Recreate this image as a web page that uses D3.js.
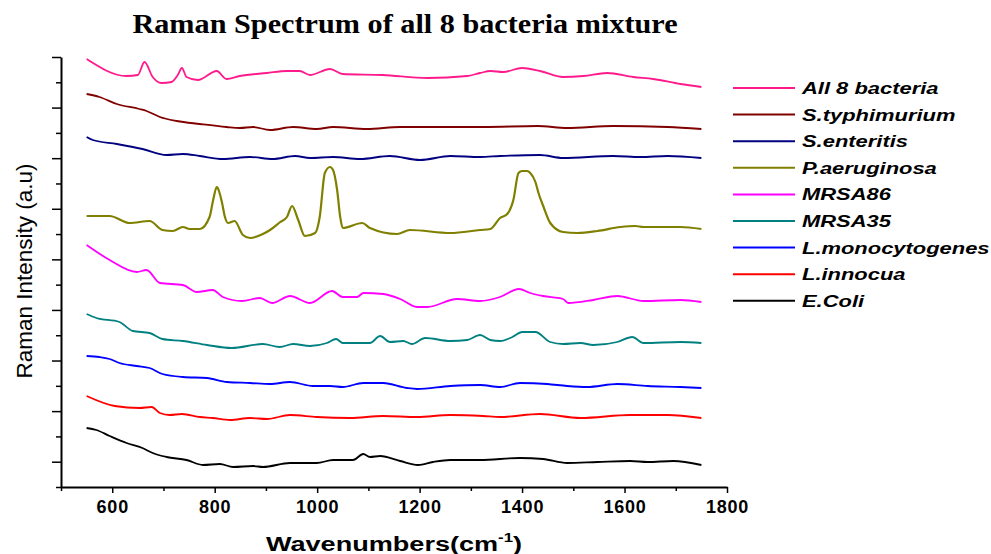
<!DOCTYPE html>
<html>
<head>
<meta charset="utf-8">
<script src="https://cdn.jsdelivr.net/npm/d3@7"></script>
<style>
  body { margin: 0; background: #fff; }
</style>
</head>
<body>
<div id="chart"></div>
<script>
// series names / colours, in legend order (top to bottom)
var names = ["All 8 bacteria", "S.typhimurium", "S.enteritis", "P.aeruginosa", "MRSA86",
             "MRSA35", "L.monocytogenes", "L.innocua", "E.Coli"];
var colors = ["#ff1a8c", "#800000", "#000080", "#808000", "#ff00ff",
              "#008080", "#0000ff", "#ff0000", "#000000"];

// wavenumber (cm-1) and offset intensity (a.u.)
var allW = [550,628,650,663,679,696,716,728,736,745,767,804,823,849,902,941,966,986,1025,1050,1128,1215,1293,1318,1338,1363,1400,1435,1480,1520,1566,1617,1656,1709,1750];
var allI = [428,411,412,425,410,404,405,412,419,410,407,416,408,411,414,416,416,412,418,413,412,409,411,414,416,415,419,416,410,411,414,410,408,403,400];

var styW = [550,575,609,653,667,693,726,771,823,849,875,908,953,999,1031,1097,1162,1254,1324,1430,1488,1578,1684,1750];
var styI = [393,390,383,378,376,370,366,363,360,359,360,357,360,358,360,358,360,360,360,361,359,361,360,358];

var sentW = [550,562,609,659,706,738,771,816,869,913,957,986,1031,1084,1142,1201,1260,1318,1357,1435,1480,1578,1631,1684,1750];
var sentI = [350,347,343,338,332,333,331,328,330,328,331,329,330,328,331,327,331,330,331,332,329,331,330,331,329];

var paeW = [550,595,634,673,698,718,738,751,771,790,797,804,806,814,820,826,839,855,869,894,908,928,941,951,963,976,996,1005,1015,1025,1031,1039,1045,1050,1088,1103,1156,1181,1260,1318,1338,1357,1371,1383,1393,1400,1410,1416,1426,1432,1442,1455,1480,1508,1547,1592,1621,1637,1709,1750];
var paeI = [271,271,264,266,257,256,260,258,258,270,287,300,299,285,270,264,266,252,249,253,257,265,270,281,267,251,254,270,314,320,317,297,270,259,264,259,253,257,254,257,258,269,273,287,314,316,316,314,305,294,280,264,255,254,256,260,261,260,260,258];

var m86W = [550,595,648,667,693,738,765,796,816,853,888,912,947,986,1029,1050,1078,1090,1129,1162,1195,1215,1273,1318,1357,1394,1416,1441,1480,1490,1539,1586,1637,1709,1750];
var m86I = [242,227,215,217,204,202,195,197,190,186,189,184,191,184,196,190,190,194,193,188,180,180,188,186,190,198,194,191,188,184,187,191,186,187,185];

var m35W = [550,569,614,640,673,698,738,785,833,894,927,953,986,1019,1037,1050,1103,1123,1142,1168,1185,1211,1260,1293,1318,1338,1357,1381,1400,1426,1455,1480,1514,1539,1586,1615,1637,1709,1750];
var m35I = [173,169,165,156,154,148,146,142,139,143,140,143,141,144,148,144,144,151,145,146,143,149,146,147,152,147,146,150,155,155,145,143,144,142,145,150,144,145,144];

var lmoW = [550,575,595,614,648,673,698,738,785,824,869,908,947,992,1025,1050,1090,1129,1175,1195,1260,1318,1357,1396,1449,1488,1527,1586,1645,1709,1750];
var lmoI = [131,130,128,124,121,119,113,110,109,105,104,103,105,101,101,100,104,104,99,98,101,102,100,104,103,101,100,103,101,100,99];

var linW = [550,605,653,677,693,712,736,771,796,830,869,902,947,999,1064,1129,1195,1260,1324,1357,1435,1514,1611,1684,1750];
var linI = [91,81,79,80,74,72,73,70,69,67,69,68,72,70,69,71,70,72,71,70,73,69,72,72,69];

var ecoW = [550,569,595,628,659,679,706,745,777,810,836,875,894,947,999,1031,1070,1090,1103,1123,1162,1197,1226,1260,1318,1396,1441,1488,1547,1611,1645,1695,1750];
var ecoI = [59,57,51,44,39,34,30,27,22,23,20,21,20,24,24,27,27,33,30,31,26,22,25,27,27,29,28,24,25,26,25,26,22];

var xMajor = [600, 800, 1000, 1200, 1400, 1600, 1800];
var xMinor = [500, 700, 900, 1100, 1300, 1500, 1700];

var seriesW = [allW, styW, sentW, paeW, m86W, m35W, lmoW, linW, ecoW];
var seriesI = [allI, styI, sentI, paeI, m86I, m35I, lmoI, linI, ecoI];

var sans = "Arial, 'Liberation Sans', sans-serif";
var stretch = 1.29; // the source picture's lettering is widened horizontally

var svg = d3.select("#chart")
            .append("svg")
            .attr("width", 991)
            .attr("height", 554);

svg.append("rect")
   .attr("width", 991)
   .attr("height", 554)
   .attr("fill", "#fff");

var x = d3.scaleLinear().domain([500, 1800]).range([61, 727]);
var y = d3.scaleLinear().domain([0, 430]).range([487, 57]);

// y ticks: 17 intervals, long and short alternating, no labels
var yTicks = d3.range(18).map(function(i) { return i * 430 / 17; });
var yLong = yTicks.filter(function(d, i) { return i % 2 == 1; });
var yShort = yTicks.filter(function(d, i) { return i % 2 == 0; });

svg.append("g")
   .attr("transform", "translate(61,0)")
   .call(d3.axisLeft(y).tickValues(yShort).tickSize(5).tickFormat("").tickSizeOuter(0))
   .call(function(g) { g.select(".domain").remove(); });

svg.append("g")
   .attr("transform", "translate(61,0)")
   .call(d3.axisLeft(y).tickValues(yLong).tickSize(9).tickFormat("").tickSizeOuter(0))
   .call(function(g) { g.select(".domain").attr("stroke-width", 2); });

svg.append("g")
   .attr("transform", "translate(0,487)")
   .call(d3.axisBottom(x).tickValues(xMinor).tickSize(4).tickFormat("").tickSizeOuter(0))
   .call(function(g) { g.select(".domain").remove(); });

var xAxis = svg.append("g")
   .attr("transform", "translate(0,487)")
   .call(d3.axisBottom(x).tickValues(xMajor).tickSize(6).tickPadding(7)
           .tickFormat(d3.format("d")).tickSizeOuter(0));
xAxis.select(".domain").attr("stroke-width", 2);
xAxis.selectAll("text")
     .attr("font-family", sans)
     .attr("font-weight", "bold")
     .attr("font-size", 18)
     .attr("letter-spacing", 0.8)
     .attr("fill", "#000");

svg.selectAll(".tick line").attr("stroke-width", 1.5);

// spectra
var line = d3.line()
             .x(function(d) { return x(d[0]); })
             .y(function(d) { return y(d[1]); })
             .curve(d3.curveMonotoneX);

seriesW.forEach(function(w, k) {
    var pts = w.map(function(v, j) { return [v, seriesI[k][j]]; });
    svg.append("path")
       .attr("d", line(pts))
       .attr("fill", "none")
       .attr("stroke", colors[k])
       .attr("stroke-width", k == 3 ? 2.2 : 1.8)
       .attr("stroke-linejoin", "round");
});

// legend
var legend = svg.append("g");
names.forEach(function(n, i) {
    var ly = 88 + i * 26.6;
    legend.append("line")
          .attr("x1", 733).attr("x2", 795)
          .attr("y1", ly).attr("y2", ly)
          .attr("stroke", colors[i])
          .attr("stroke-width", 2);
    legend.append("text")
          .attr("transform", "translate(802," + (ly + 6) + ") scale(" + stretch + ",1)")
          .attr("font-family", sans)
          .attr("font-weight", "bold")
          .attr("font-style", "italic")
          .attr("font-size", 17)
          .text(n);
});

// titles
svg.append("text")
   .attr("transform", "translate(405,33) scale(1.12,1)")
   .attr("text-anchor", "middle")
   .attr("font-family", "'Times New Roman', 'Liberation Serif', serif")
   .attr("font-weight", "bold")
   .attr("font-size", 27)
   .text("Raman Spectrum of all 8 bacteria mixture");

var xl = svg.append("text")
   .attr("transform", "translate(394,551) scale(" + stretch + ",1)")
   .attr("text-anchor", "middle")
   .attr("font-family", sans)
   .attr("font-weight", "bold")
   .attr("font-size", 21);
xl.append("tspan").text("Wavenumbers(cm");
xl.append("tspan").attr("font-size", 13).attr("dy", -9).text("-1");
xl.append("tspan").attr("dy", 9).text(")");

svg.append("text")
   .attr("transform", "translate(32,271) rotate(-90)")
   .attr("text-anchor", "middle")
   .attr("font-family", sans)
   .attr("font-size", 22.5)
   .text("Raman Intensity (a.u)");
</script>
</body>
</html>
